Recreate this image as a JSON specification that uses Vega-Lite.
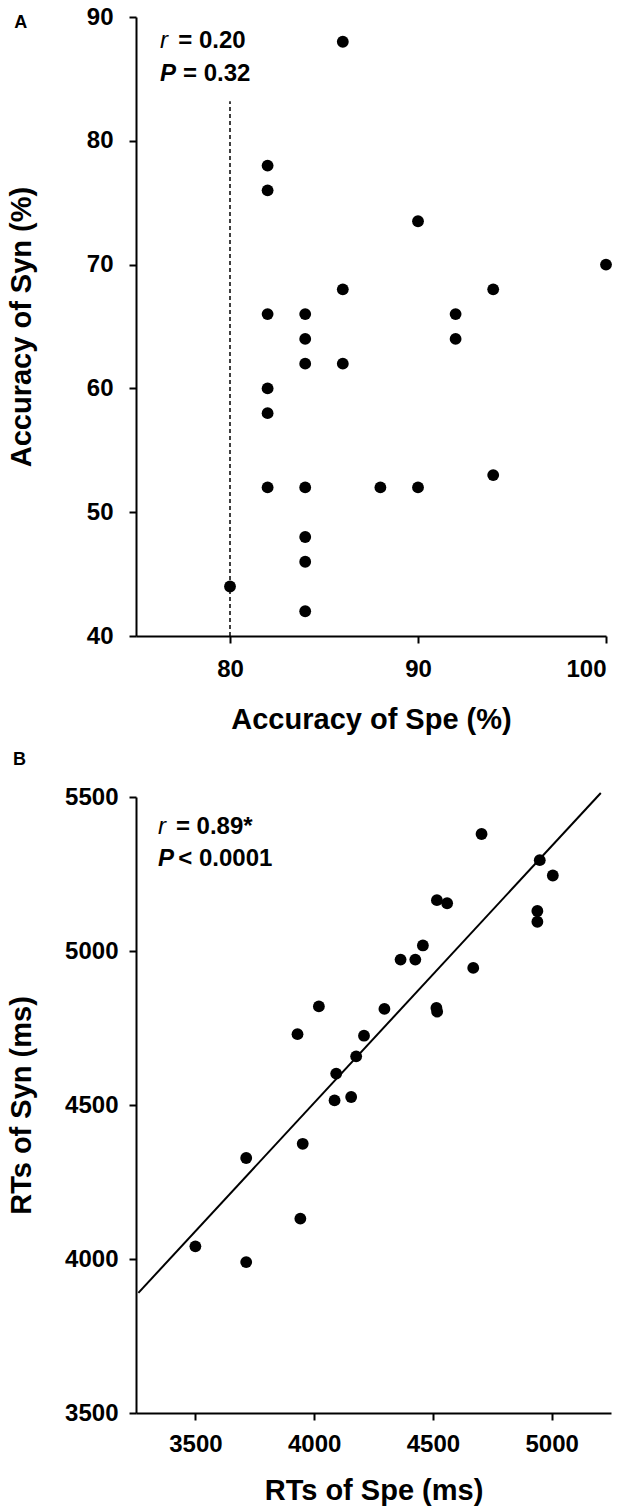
{
  "$schema": "https://vega.github.io/schema/vega-lite/v6.json",
  "padding": {"left": 7, "top": 5, "right": 5, "bottom": 5},
  "spacing": 16,
  "config": {
    "view": {"stroke": null},
    "font": "Liberation Sans",
    "axis": {
      "grid": false,
      "domainColor": "black",
      "domainWidth": 2,
      "tickColor": "black",
      "tickWidth": 2,
      "tickSize": 7,
      "labelFont": "Liberation Sans",
      "labelFontSize": 24,
      "labelFontWeight": "bold",
      "labelColor": "black",
      "titleFont": "Liberation Sans",
      "titleFontSize": 29,
      "titleFontWeight": "bold",
      "titleColor": "black"
    }
  },
  "vconcat": [
    {
      "width": 470,
      "height": 619,
      "layer": [
        {
          "data": {"values": [{}]},
          "mark": {"type": "rule", "strokeDash": [4, 3], "strokeWidth": 1.5, "color": "black"},
          "encoding": {
            "x": {"datum": 80, "type": "quantitative"},
            "y": {"datum": 40, "type": "quantitative"},
            "y2": {"datum": 83.2}
          }
        },
        {
          "data": {"values": [
            {"spe": 86, "syn": 88}, {"spe": 82, "syn": 78}, {"spe": 82, "syn": 76},
            {"spe": 90, "syn": 73.5}, {"spe": 100, "syn": 70}, {"spe": 86, "syn": 68},
            {"spe": 94, "syn": 68}, {"spe": 82, "syn": 66}, {"spe": 84, "syn": 66},
            {"spe": 92, "syn": 66}, {"spe": 84, "syn": 64}, {"spe": 92, "syn": 64},
            {"spe": 84, "syn": 62}, {"spe": 86, "syn": 62}, {"spe": 82, "syn": 60},
            {"spe": 82, "syn": 58}, {"spe": 82, "syn": 52}, {"spe": 84, "syn": 52},
            {"spe": 88, "syn": 52}, {"spe": 90, "syn": 52}, {"spe": 94, "syn": 53},
            {"spe": 84, "syn": 48}, {"spe": 84, "syn": 46}, {"spe": 80, "syn": 44},
            {"spe": 84, "syn": 42}
          ]},
          "mark": {"type": "point", "shape": "circle", "filled": true, "size": 140, "color": "black", "opacity": 1},
          "encoding": {
            "x": {
              "field": "spe", "type": "quantitative",
              "scale": {"domain": [75, 100], "nice": false, "zero": false},
              "axis": {"values": [80, 90, 100], "format": "d", "labelPadding": 14, "title": "Accuracy of Spe (%)", "titleY": 92, "titleBaseline": "alphabetic"}
            },
            "y": {
              "field": "syn", "type": "quantitative",
              "scale": {"domain": [40, 90], "nice": false, "zero": false},
              "axis": {"values": [40, 50, 60, 70, 80, 90], "format": "d", "labelPadding": 16, "title": "Accuracy of Syn (%)", "titleX": -106, "titleBaseline": "alphabetic"}
            }
          }
        },
        {
          "data": {"values": [{"t": "r"}]},
          "mark": {"type": "text", "fontSize": 24, "fontStyle": "italic", "align": "left", "baseline": "alphabetic", "color": "black"},
          "encoding": {"x": {"datum": 76.28, "type": "quantitative"}, "y": {"datum": 87.5, "type": "quantitative"}, "text": {"field": "t"}}
        },
        {
          "data": {"values": [{"t": "= 0.20"}]},
          "mark": {"type": "text", "fontSize": 24, "fontWeight": "bold", "align": "left", "baseline": "alphabetic", "color": "black"},
          "encoding": {"x": {"datum": 77.25, "type": "quantitative"}, "y": {"datum": 87.5, "type": "quantitative"}, "text": {"field": "t"}}
        },
        {
          "data": {"values": [{"t": "P"}]},
          "mark": {"type": "text", "fontSize": 24, "fontStyle": "italic", "fontWeight": "bold", "align": "left", "baseline": "alphabetic", "color": "black"},
          "encoding": {"x": {"datum": 76.28, "type": "quantitative"}, "y": {"datum": 84.8, "type": "quantitative"}, "text": {"field": "t"}}
        },
        {
          "data": {"values": [{"t": "= 0.32"}]},
          "mark": {"type": "text", "fontSize": 24, "fontWeight": "bold", "align": "left", "baseline": "alphabetic", "color": "black"},
          "encoding": {"x": {"datum": 77.5, "type": "quantitative"}, "y": {"datum": 84.8, "type": "quantitative"}, "text": {"field": "t"}}
        },
        {
          "data": {"values": [{"t": "A"}]},
          "mark": {"type": "text", "fontSize": 18, "fontWeight": "bold", "align": "left", "baseline": "alphabetic", "color": "black"},
          "encoding": {"x": {"datum": 68.53, "type": "quantitative"}, "y": {"datum": 89.1, "type": "quantitative"}, "text": {"field": "t"}}
        }
      ]
    },
    {
      "width": 475,
      "height": 616,
      "layer": [
        {
          "data": {"values": [{}]},
          "mark": {"type": "rule", "strokeWidth": 2, "color": "black"},
          "encoding": {
            "x": {"datum": 3260, "type": "quantitative"},
            "y": {"datum": 3890, "type": "quantitative"},
            "x2": {"datum": 5207},
            "y2": {"datum": 5513}
          }
        },
        {
          "data": {"values": [
            {"spe": 4705, "syn": 5380}, {"spe": 4950, "syn": 5295}, {"spe": 5005, "syn": 5245},
            {"spe": 4517, "syn": 5165}, {"spe": 4560, "syn": 5155}, {"spe": 4940, "syn": 5130},
            {"spe": 4940, "syn": 5095}, {"spe": 4458, "syn": 5018}, {"spe": 4364, "syn": 4972},
            {"spe": 4426, "syn": 4972}, {"spe": 4670, "syn": 4945}, {"spe": 4020, "syn": 4820},
            {"spe": 4296, "syn": 4812}, {"spe": 4515, "syn": 4815}, {"spe": 4518, "syn": 4803},
            {"spe": 3930, "syn": 4730}, {"spe": 4210, "syn": 4725}, {"spe": 4177, "syn": 4658},
            {"spe": 4093, "syn": 4602}, {"spe": 4086, "syn": 4515}, {"spe": 4156, "syn": 4526},
            {"spe": 3952, "syn": 4374}, {"spe": 3714, "syn": 4328}, {"spe": 3942, "syn": 4131},
            {"spe": 3500, "syn": 4041}, {"spe": 3714, "syn": 3990}
          ]},
          "mark": {"type": "point", "shape": "circle", "filled": true, "size": 140, "color": "black", "opacity": 1},
          "encoding": {
            "x": {
              "field": "spe", "type": "quantitative",
              "scale": {"domain": [3250, 5250], "nice": false, "zero": false},
              "axis": {"values": [3500, 4000, 4500, 5000], "format": "d", "labelPadding": 12, "title": "RTs of Spe (ms)", "titleY": 86, "titleBaseline": "alphabetic"}
            },
            "y": {
              "field": "syn", "type": "quantitative",
              "scale": {"domain": [3500, 5500], "nice": false, "zero": false},
              "axis": {"values": [3500, 4000, 4500, 5000, 5500], "format": "d", "labelPadding": 11, "title": "RTs of Syn (ms)", "titleX": -106, "titleBaseline": "alphabetic"}
            }
          }
        },
        {
          "data": {"values": [{"t": "r"}]},
          "mark": {"type": "text", "fontSize": 24, "fontStyle": "italic", "align": "left", "baseline": "alphabetic", "color": "black"},
          "encoding": {"x": {"datum": 3343, "type": "quantitative"}, "y": {"datum": 5380, "type": "quantitative"}, "text": {"field": "t"}}
        },
        {
          "data": {"values": [{"t": "= 0.89*"}]},
          "mark": {"type": "text", "fontSize": 24, "fontWeight": "bold", "align": "left", "baseline": "alphabetic", "color": "black"},
          "encoding": {"x": {"datum": 3418, "type": "quantitative"}, "y": {"datum": 5380, "type": "quantitative"}, "text": {"field": "t"}}
        },
        {
          "data": {"values": [{"t": "P"}]},
          "mark": {"type": "text", "fontSize": 24, "fontStyle": "italic", "fontWeight": "bold", "align": "left", "baseline": "alphabetic", "color": "black"},
          "encoding": {"x": {"datum": 3343, "type": "quantitative"}, "y": {"datum": 5276, "type": "quantitative"}, "text": {"field": "t"}}
        },
        {
          "data": {"values": [{"t": "< 0.0001"}]},
          "mark": {"type": "text", "fontSize": 24, "fontWeight": "bold", "align": "left", "baseline": "alphabetic", "color": "black"},
          "encoding": {"x": {"datum": 3428, "type": "quantitative"}, "y": {"datum": 5276, "type": "quantitative"}, "text": {"field": "t"}}
        },
        {
          "data": {"values": [{"t": "B"}]},
          "mark": {"type": "text", "fontSize": 18, "fontWeight": "bold", "align": "left", "baseline": "alphabetic", "color": "black"},
          "encoding": {"x": {"datum": 2732, "type": "quantitative"}, "y": {"datum": 5604, "type": "quantitative"}, "text": {"field": "t"}}
        }
      ]
    }
  ]
}
